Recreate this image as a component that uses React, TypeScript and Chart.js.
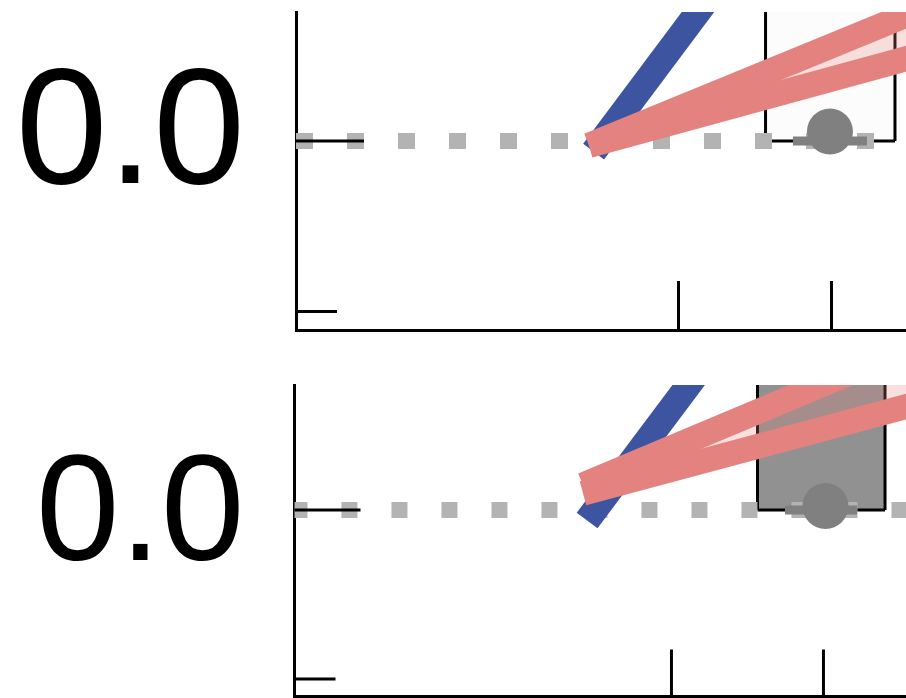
import React, { useEffect, useRef } from 'react';
import { Chart, registerables } from 'chart.js';

Chart.register(...registerables);

// ---------- shared data ----------
const Y_TICK_VALUES = [-1, 0];
const Y_TICK_LABELS = ['', '0.0'];
const Y_TICK_MAJOR = [false, true];
const X_TICK_VALUES = [2.5, 3.5];
const BLUE_X = [1.945, 2.83];
const BLUE_Y = [-0.062, 1.0];
const ZERO_X = [0, 4.5];
const ZERO_Y = [0, 0];

// ---------- top panel ----------
const TOP_X_RANGE = [0, 3.987];
const TOP_Y_RANGE = [-1.108, 0.757];
const TOP_SALMON_X = [1.915, 4.5];
const TOP_SALMON_UPPER = [-0.025, 0.926];
const TOP_SALMON_LOWER = [-0.025, 0.608];
const TOP_BOX_X = [3.069, 3.069, 3.915, 3.915];
const TOP_BOX_Y = [0, 1.5, 1.5, 0];
const TOP_DOT_X = [3.49];
const TOP_DOT_Y = [0.056];
const TOP_BAR_X = [3.248, 3.732];
const TOP_BAR_Y = [0, 0];

// ---------- bottom panel ----------
const BOT_X_RANGE = [0.02, 4.043];
const BOT_Y_RANGE = [-1.104, 0.74];
const BOT_SALMON_X = [1.918, 4.5];
const BOT_SALMON_UPPER = [0.148, 1.124];
const BOT_SALMON_LOWER = [0.099, 0.722];
const BOT_BOX_X = [3.066, 3.066, 3.905, 3.905];
const BOT_BOX_Y = [0, 1.5, 1.5, 0];
const BOT_DOT_X = [3.513];
const BOT_DOT_Y = [0.024];
const BOT_BAR_X = [3.247, 3.721];
const BOT_BAR_Y = [0, 0];

const BLUE = '#3d54a0';
const SALMON = '#e48280';
const SALMON_FILL = 'rgba(228,130,128,0.25)';
const GRAY = '#808080';
const DOTTED = '#b3b3b3';

const zip = (xs: number[], ys: number[]) => xs.map((x, i) => ({ x, y: ys[i] }));

const TOP = {
  xRange: TOP_X_RANGE, yRange: TOP_Y_RANGE,
  salmonX: TOP_SALMON_X, upper: TOP_SALMON_UPPER, lower: TOP_SALMON_LOWER,
  boxX: TOP_BOX_X, boxY: TOP_BOX_Y, boxFill: '#fcfcfc',
  dotX: TOP_DOT_X, dotY: TOP_DOT_Y, barX: TOP_BAR_X, barY: TOP_BAR_Y,
  padTop: 12, xAxisH: 19, yAxisW: 296,
  fontSize: 165, labelPad: 51, labelOffset: -4,
  dash: [17, 34], yMajor: 68, yMinor: 41, xLen: 49,
};
const BOTTOM = {
  xRange: BOT_X_RANGE, yRange: BOT_Y_RANGE,
  salmonX: BOT_SALMON_X, upper: BOT_SALMON_UPPER, lower: BOT_SALMON_LOWER,
  boxX: BOT_BOX_X, boxY: BOT_BOX_Y, boxFill: '#919191',
  dotX: BOT_DOT_X, dotY: BOT_DOT_Y, barX: BOT_BAR_X, barY: BOT_BAR_Y,
  padTop: 36, xAxisH: 1.5, yAxisW: 294.5,
  fontSize: 150, labelPad: 50, labelOffset: 9,
  dash: [16, 34], yMajor: 66, yMinor: 41, xLen: 47,
};

const innerTicksPlugin = {
  id: 'innerTicks',
  afterDatasetsDraw(chart: any, _args: any, opts: any) {
    const { ctx, chartArea, scales } = chart;
    ctx.save();
    ctx.strokeStyle = '#000';
    ctx.lineWidth = 3;
    ctx.lineCap = 'butt';
    Y_TICK_VALUES.forEach((v, i) => {
      const y = scales.y.getPixelForValue(v);
      const len = Y_TICK_MAJOR[i] ? opts.yMajor : opts.yMinor;
      ctx.beginPath();
      ctx.moveTo(chartArea.left, y);
      ctx.lineTo(chartArea.left + len, y);
      ctx.stroke();
    });
    X_TICK_VALUES.forEach((v) => {
      const x = scales.x.getPixelForValue(v);
      ctx.beginPath();
      ctx.moveTo(x, chartArea.bottom);
      ctx.lineTo(x, chartArea.bottom - opts.xLen);
      ctx.stroke();
    });
    ctx.restore();
  },
};

function buildConfig(p: any): any {
  const line = (extra: any) => ({
    type: 'line', pointRadius: 0, tension: 0, clip: 0, fill: false,
    borderCapStyle: 'butt', borderJoinStyle: 'miter', ...extra,
  });
  const boxBottomX = [p.boxX[0], p.boxX[p.boxX.length - 1]];
  const boxBottomY = [p.boxY[0], p.boxY[p.boxY.length - 1]];
  const datasets = [
    line({ label: 'upper', data: zip(p.salmonX, p.upper), borderColor: SALMON, borderWidth: 25 }),
    line({ label: 'lower', data: zip(p.salmonX, p.lower), borderColor: SALMON, borderWidth: 25, fill: '-1', backgroundColor: SALMON_FILL }),
    line({ label: 'blue', data: zip(BLUE_X, BLUE_Y), borderColor: BLUE, borderWidth: 26 }),
    line({ label: 'dot', data: zip(p.dotX, p.dotY), showLine: false, pointRadius: 23, pointBackgroundColor: GRAY, pointBorderWidth: 0, borderColor: GRAY }),
    line({ label: 'bar', data: zip(p.barX, p.barY), borderColor: GRAY, borderWidth: 9 }),
    line({ label: 'zero', data: zip(ZERO_X, ZERO_Y), borderColor: DOTTED, borderWidth: 16, borderDash: p.dash }),
    line({ label: 'boxBottom', data: zip(boxBottomX, boxBottomY), borderColor: '#000', borderWidth: 3 }),
    line({ label: 'box', data: zip(p.boxX, p.boxY), borderColor: '#000', borderWidth: 3, fill: 'origin', backgroundColor: p.boxFill }),
  ];
  return {
    type: 'line',
    data: { datasets },
    plugins: [innerTicksPlugin],
    options: {
      animation: false,
      responsive: false,
      maintainAspectRatio: false,
      events: [],
      layout: { autoPadding: false, padding: { top: p.padTop, left: 0, right: 0, bottom: 0 } },
      plugins: {
        legend: { display: false },
        tooltip: { enabled: false },
        innerTicks: { yMajor: p.yMajor, yMinor: p.yMinor, xLen: p.xLen },
      },
      scales: {
        x: {
          type: 'linear', min: p.xRange[0], max: p.xRange[1],
          grid: { display: false, drawTicks: false },
          border: { display: true, width: 3, color: '#000' },
          ticks: { display: false },
          afterBuildTicks: (s: any) => { s.ticks = X_TICK_VALUES.map((v) => ({ value: v })); },
          afterFit: (s: any) => { s.height = p.xAxisH; s.paddingLeft = 0; s.paddingRight = 0; },
        },
        y: {
          type: 'linear', min: p.yRange[0], max: p.yRange[1],
          grid: { display: false, drawTicks: false },
          border: { display: true, width: 3, color: '#000' },
          ticks: {
            autoSkip: false,
            padding: p.labelPad,
            labelOffset: p.labelOffset,
            color: '#000',
            font: { family: '"Liberation Sans", Arial, sans-serif', size: p.fontSize },
            callback: (v: number) => {
              const i = Y_TICK_VALUES.indexOf(v);
              return i >= 0 ? Y_TICK_LABELS[i] : '';
            },
          },
          afterBuildTicks: (s: any) => { s.ticks = Y_TICK_VALUES.map((v) => ({ value: v })); },
          afterFit: (s: any) => { s.width = p.yAxisW; s.paddingTop = 0; s.paddingBottom = 0; },
        },
      },
    },
  };
}

function Panel({ cfg }: { cfg: any }) {
  const ref = useRef<HTMLCanvasElement>(null);
  useEffect(() => {
    const chart = new Chart(ref.current as HTMLCanvasElement, buildConfig(cfg));
    return () => chart.destroy();
  }, [cfg]);
  return <canvas ref={ref} width={906} height={349} style={{ display: 'block', width: 906, height: 349 }} />;
}

export default function App() {
  return (
    <div style={{ position: 'fixed', left: 0, top: 0, width: 906, height: 698, background: '#fff', overflow: 'hidden' }}>
      <Panel cfg={TOP} />
      <Panel cfg={BOTTOM} />
    </div>
  );
}
